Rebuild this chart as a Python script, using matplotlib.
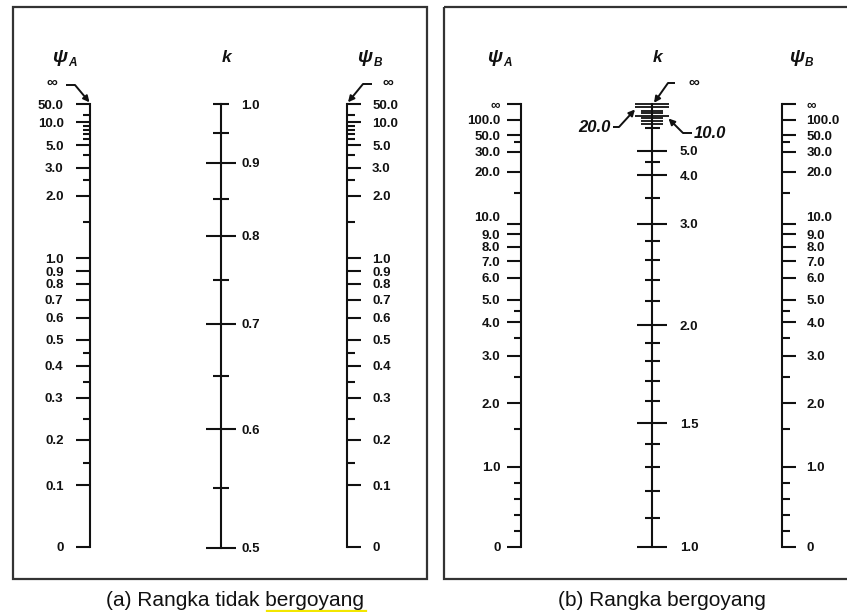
import numpy as np
import matplotlib
matplotlib.use('Agg')
import matplotlib.pyplot as plt
from matplotlib.patches import Rectangle

plt.rcParams['font.family'] = ['Liberation Sans', 'DejaVu Sans']

W, H = 847, 612
INF = 1e6
INK = '#111111'

# ---- data: tick values and labels of each nomograph scale ----
# (a) braced frame
nonsway_psi_major = [0, 0.1, 0.2, 0.3, 0.4, 0.5, 0.6, 0.7, 0.8, 0.9, 1.0, 2.0, 3.0, 5.0, 10.0, 50.0]
nonsway_psi_labels = ['0', '0.1', '0.2', '0.3', '0.4', '0.5', '0.6', '0.7', '0.8', '0.9',
                      '1.0', '2.0', '3.0', '5.0', '10.0', '50.0']
nonsway_psi_minor = [0.15, 0.25, 0.35, 0.45, 1.5, 2.5, 4.0, 6.0, 7.0, 8.0, 9.0, 20.0]
nonsway_k_major = [0.5, 0.6, 0.7, 0.8, 0.9]
nonsway_k_labels = ['0.5', '0.6', '0.7', '0.8', '0.9']
nonsway_k_minor = [0.55, 0.65, 0.75, 0.85, 0.95, 1.0]
nonsway_k_minor_labels = ['', '', '', '', '', '1.0']

# (b) sway frame
sway_psi_major = [0, 1, 2, 3, 4, 5, 6, 7, 8, 9, 10, 20, 30, 50, 100, INF]
sway_psi_labels = ['0', '1.0', '2.0', '3.0', '4.0', '5.0', '6.0', '7.0', '8.0', '9.0',
                   '10.0', '20.0', '30.0', '50.0', '100.0', '∞']
sway_psi_minor = [0.2, 0.4, 0.6, 0.8, 1.5, 2.5, 3.5, 4.5, 15, 40]
sway_k_major = [1.0, 1.5, 2.0, 3.0, 4.0, 5.0]
sway_k_labels = ['1.0', '1.5', '2.0', '3.0', '4.0', '5.0']
sway_k_minor = [1.1, 1.2, 1.3, 1.4, 1.6, 1.7, 1.8, 1.9, 2.2, 2.4, 2.6, 2.8, 3.5, 4.5, 6.0]
sway_k_long = [10.0, 20.0, INF]
sway_k_mid = [7.0, 8.0, 9.0, 12.0, 15.0]

# scale calibration: value -> vertical pixel position on the sheet
nonsway_psi_cal_y = [546.7, 485.3, 439.7, 397.7, 366, 340, 318, 299.7, 284, 271,
                     258.3, 195.7, 167.7, 145, 122.3, 104.3]
nonsway_k_cal_v = [0.5, 0.6, 0.7, 0.8, 0.9, 1.0]
nonsway_k_cal_y = [547.7, 429, 324, 236, 162.7, 104.3]
sway_psi_cal_y = [546.7, 466.7, 403, 356, 322.3, 300, 277.7, 261, 246.7, 234.3,
                  224, 171.7, 151.7, 135, 120, 104.3]
sway_k_cal_v = [1.0, 1.5, 2.0, 3.0, 4.0, 5.0, 6.0, 10.0, 20.0, INF]
sway_k_cal_y = [546.7, 423.3, 325, 224, 175, 150.7, 127.7, 115.5, 107.3, 103.8]


def u(v):
    v = np.asarray(v, dtype=float)
    return np.where(v <= 1, v, 1 + np.log(np.maximum(v, 1)))


def u_inv(w):
    w = np.asarray(w, dtype=float)
    return np.where(w <= 1, w, np.exp(np.clip(w, 1, 40) - 1))


fig = plt.figure(figsize=(W / 100, H / 100), dpi=100)
bg = fig.add_axes([0, 0, 1, 1])
bg.set_xlim(0, W)
bg.set_ylim(H, 0)
bg.axis('off')


def scale_axes(x, cal_v, cal_y, side, show_spine=True):
    cv = u(cal_v)
    cy = -np.asarray(cal_y, dtype=float)
    fwd = lambda v: np.interp(u(v), cv, cy)
    inv = lambda p: u_inv(np.interp(p, cy, cv))
    top, bot = min(cal_y), max(cal_y)
    ax = fig.add_axes([x / W, 1 - bot / H, 0.0001, (bot - top) / H])
    ax.set_yscale('function', functions=(fwd, inv))
    ax.set_ylim(min(cal_v), max(cal_v))
    ax.patch.set_visible(False)
    ax.set_xticks([])
    for s in ('top', 'bottom', 'left', 'right'):
        ax.spines[s].set_visible(show_spine and s == side)
    ax.spines[side].set_linewidth(1.5)
    ax.spines[side].set_color(INK)
    if side == 'right':
        ax.yaxis.tick_right()
    else:
        ax.yaxis.tick_left()
    return ax


def psi_scale(x, major, labels, minor, cal_y, side, pad):
    ax = scale_axes(x, major, cal_y, side)
    ax.set_yticks(major, labels=labels, fontsize=9.5, fontweight='bold')
    ax.set_yticks(minor, minor=True)
    ax.tick_params(axis='y', which='major', direction='out', length=10, width=1.5,
                   pad=pad, color=INK, labelcolor=INK)
    ax.tick_params(axis='y', which='minor', direction='out', length=5.4, width=1.5, color=INK)
    # lift the crowded "10.0" label a little, as on the sheet
    for tick, lab in zip(ax.yaxis.get_major_ticks(), labels):
        if lab == '10.0' and major is sway_psi_major:
            tick.label1.set_va('bottom')
            tick.label2.set_va('bottom')
    return ax


# frames
bg.add_patch(Rectangle((13, 7), 414, 572, fill=False, lw=1.6, ec='#333333'))
bg.add_patch(Rectangle((444, 7), 412, 572, fill=False, lw=1.6, ec='#333333'))

# (a) scales
psi_scale(90, nonsway_psi_major, nonsway_psi_labels, nonsway_psi_minor,
          nonsway_psi_cal_y, 'left', 9.0)
psi_scale(346.7, nonsway_psi_major, nonsway_psi_labels, nonsway_psi_minor,
          nonsway_psi_cal_y, 'right', 8.2)
ka = scale_axes(221, nonsway_k_cal_v, nonsway_k_cal_y, 'right')
ka.set_yticks(nonsway_k_major, labels=nonsway_k_labels, fontsize=9.5, fontweight='bold')
ka.set_yticks(nonsway_k_minor, labels=nonsway_k_minor_labels, minor=True,
              fontsize=9.5, fontweight='bold')
ka.tick_params(axis='y', which='major', direction='inout', length=21, width=1.5,
               pad=4.5, color=INK, labelcolor=INK)
ka.tick_params(axis='y', which='minor', direction='inout', length=11.5, width=1.5,
               pad=9.0, color=INK, labelcolor=INK)

# (b) scales
psi_scale(520.7, sway_psi_major, sway_psi_labels, sway_psi_minor,
          sway_psi_cal_y, 'left', 4.6)
psi_scale(782.3, sway_psi_major, sway_psi_labels, sway_psi_minor,
          sway_psi_cal_y, 'right', 7.2)
kb = scale_axes(652.3, sway_k_cal_v, sway_k_cal_y, 'right')
kb.set_yticks(sway_k_major, labels=sway_k_labels, fontsize=9.5, fontweight='bold')
kb.set_yticks(sway_k_minor, minor=True)
kb.tick_params(axis='y', which='major', direction='inout', length=21, width=1.5,
               pad=9.2, color=INK, labelcolor=INK)
kb.tick_params(axis='y', which='minor', direction='inout', length=10.8, width=1.5, color=INK)
kc = scale_axes(652.3, sway_k_cal_v, sway_k_cal_y, 'right', show_spine=False)
kc.set_yticks(sway_k_long, labels=[''] * len(sway_k_long))
kc.set_yticks(sway_k_mid, minor=True)
kc.tick_params(axis='y', which='major', direction='inout', length=23.8, width=1.3, color=INK)
kc.tick_params(axis='y', which='minor', direction='inout', length=16, width=1.3, color=INK)

# headers
for xc, sub in [(60, 'A'), (365, 'B'), (495, 'A'), (796.5, 'B')]:
    bg.text(xc, 62, 'ψ', ha='center', va='baseline', fontsize=14,
            fontweight='bold', style='italic', color=INK)
    bg.text(xc + 8.5, 66, sub, ha='left', va='baseline', fontsize=8.5,
            fontweight='bold', style='italic', color=INK)
for xc in (227, 657.5):
    bg.text(xc, 62, 'k', ha='center', va='baseline', fontsize=12.5,
            fontweight='bold', style='italic', color=INK)


def pointer(label_xy, start, bend, tip, text, ha, size=11, italic=False):
    bg.text(label_xy[0], label_xy[1], text, ha=ha, va='center', fontsize=size,
            fontweight='bold', style='italic' if italic else 'normal', color=INK)
    bg.plot([start[0], bend[0]], [start[1], bend[1]], color=INK, lw=1.4,
            solid_capstyle='butt')
    bg.annotate('', xy=tip, xytext=bend,
                arrowprops=dict(arrowstyle='-|>', color=INK, lw=1.4,
                                mutation_scale=9, shrinkA=0, shrinkB=0))


top_a = min(nonsway_psi_cal_y)
pointer((52, 83), (66, 85), (75, 85), (89.5, top_a - 2), '∞', 'center')
pointer((388, 83), (372, 84), (363, 84), (348, top_a - 2), '∞', 'center')
top_k = min(sway_k_cal_y)
pointer((694, 83), (675, 83), (668, 83), (654, top_k - 1), '∞', 'center')
pointer((611, 127), (613, 127), (619, 127), (635, 109.5), '20.0', 'right', 12, True)
pointer((694, 133), (692, 133), (683, 133), (668.5, 118.5), '10.0', 'left', 12, True)

# captions
bg.text(235, 600, '(a) Rangka tidak bergoyang', ha='center', va='center',
        fontsize=15, color='#111111')
bg.plot([267, 366], [610.8, 610.8], color='#f2e600', lw=1.6)
bg.text(662, 600, '(b) Rangka bergoyang', ha='center', va='center',
        fontsize=15, color='#111111')

fig.savefig('out.png', dpi=100)
